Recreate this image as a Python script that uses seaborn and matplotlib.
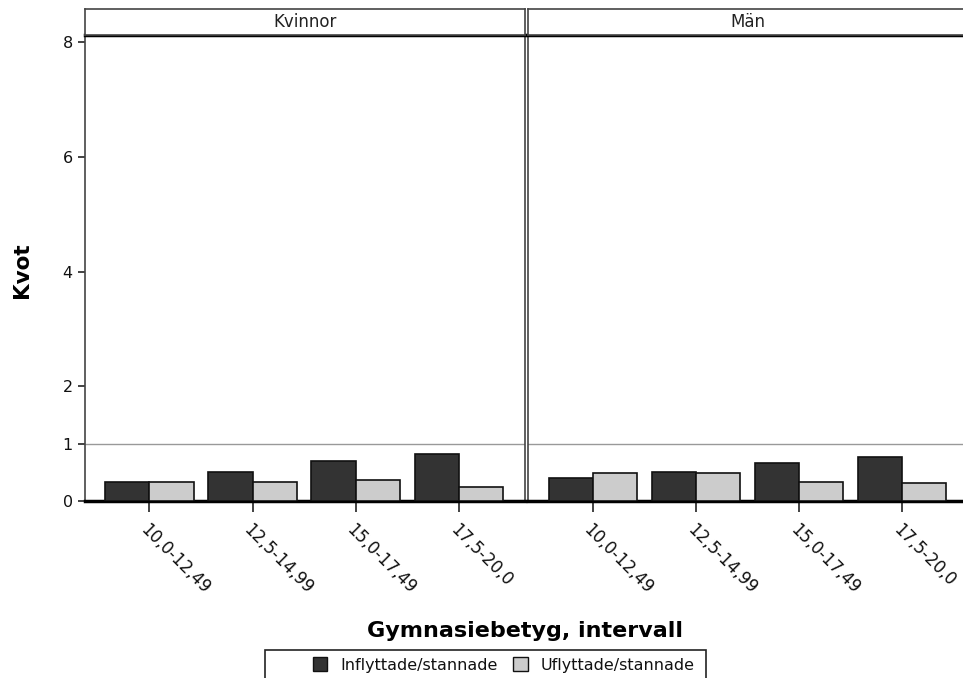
import matplotlib
matplotlib.use("Agg")
import matplotlib.pyplot as plt
import seaborn as sns
import pandas as pd
from matplotlib.patches import Rectangle

categories = ["10,0-12,49", "12,5-14,99", "15,0-17,49", "17,5-20,0"]
panels = ["Kvinnor", "Män"]
series = ["Inflyttade/stannade", "Uflyttade/stannade"]
kvinnor_inflyttade = [0.34, 0.50, 0.69, 0.82]
kvinnor_uflyttade = [0.34, 0.34, 0.37, 0.24]
man_inflyttade = [0.40, 0.50, 0.66, 0.77]
man_uflyttade = [0.48, 0.48, 0.34, 0.32]
y_ticks = [0, 1, 2, 4, 6, 8]
colors = ["#333333", "#cccccc"]

values = {
    "Kvinnor": [kvinnor_inflyttade, kvinnor_uflyttade],
    "Män": [man_inflyttade, man_uflyttade],
}
rows = []
for p in panels:
    for s, vals in zip(series, values[p]):
        for c, v in zip(categories, vals):
            rows.append({"panel": p, "serie": s, "kat": c, "kvot": v})
df = pd.DataFrame(rows)

sns.set_style("white")
plt.rcParams["font.family"] = ["DejaVu Sans"]
plt.rcParams["text.color"] = "#111111"
plt.rcParams["xtick.color"] = "#111111"
plt.rcParams["ytick.color"] = "#111111"

W, H = 963, 678
fig = plt.figure(figsize=(W / 100, H / 100), dpi=100)

def fx(px):
    return px / W

def fy(py):
    return 1 - py / H

top, bottom = 35, 501
panel_x = [(84.5, 525), (528, 968)]
axes = []
for i, (p, (x0, x1)) in enumerate(zip(panels, panel_x)):
    ax = fig.add_axes([fx(x0), fy(bottom), fx(x1 - x0), (bottom - top) / H])
    sub = df[df.panel == p]
    sns.barplot(data=sub, x="kat", y="kvot", hue="serie", order=categories,
                hue_order=series, palette=colors, width=0.86, gap=0,
                edgecolor="#111111", linewidth=1.2, saturation=1,
                legend=False, ax=ax, zorder=3)
    ax.set_xlim(-0.63, 3.64)
    ax.set_ylim(0, 8.13)
    ax.axhline(1, color="#999999", lw=1.0, zorder=1)
    ax.set_xlabel("")
    ax.set_ylabel("")
    for s in ["left", "right"]:
        ax.spines[s].set_color("#444444")
        ax.spines[s].set_linewidth(1.2)
    ax.spines["top"].set_color("black")
    ax.spines["top"].set_linewidth(2.5)
    ax.spines["bottom"].set_color("black")
    ax.spines["bottom"].set_linewidth(2.5)
    if i == 1:
        ax.spines["right"].set_visible(False)
    ax.tick_params(axis="x", direction="out", length=8, width=1.2, color="#222222",
                   bottom=True, labelsize=12, pad=6, labelcolor="#111111")
    ax.set_xticks(range(len(categories)))
    ax.set_xticklabels(categories, rotation=-45, ha="left", va="top",
                       rotation_mode="anchor")
    if i == 0:
        ax.set_yticks(y_ticks)
        ax.set_yticklabels([str(t) for t in y_ticks])
        ax.tick_params(axis="y", direction="out", length=5, width=1.2,
                       color="#222222", left=True, labelsize=11.5,
                       labelcolor="#111111")
    else:
        ax.set_yticks([])
    # header strip
    hx = fig.add_axes([fx(x0), fy(top), fx(x1 - x0), (top - 9) / H])
    hx.set_xticks([])
    hx.set_yticks([])
    for s in hx.spines.values():
        s.set_color("#444444")
        s.set_linewidth(1.2)
    if i == 1:
        hx.spines["right"].set_visible(False)
    hx.text(0.5, 0.5, p, ha="center", va="center", fontsize=12,
            color="#222222", transform=hx.transAxes)
    axes.append(ax)

fig.text(fx(22), fy(270), "Kvot", rotation=90, ha="center", va="center",
         fontsize=15.5, fontweight="bold", color="black")
fig.text(fx(525), fy(631), "Gymnasiebetyg, intervall", ha="center", va="center",
         fontsize=16, fontweight="bold", color="black")

# legend
fig.patches.append(Rectangle((fx(265), fy(690)), fx(706 - 265), (690 - 650) / H,
                             transform=fig.transFigure, fill=False,
                             edgecolor="#222222", lw=1.2))
handles = [Rectangle((0, 0), 1, 1, facecolor=c, edgecolor="#111111", lw=1.0)
           for c in colors]
fig.legend(handles, series, loc="center left",
           bbox_to_anchor=(fx(305), fy(665)), ncol=2, frameon=False,
           fontsize=11.5, handlelength=0.9, handleheight=0.9,
           handletextpad=0.8, columnspacing=1.0, borderpad=0)

fig.savefig("out.png", dpi=100)
